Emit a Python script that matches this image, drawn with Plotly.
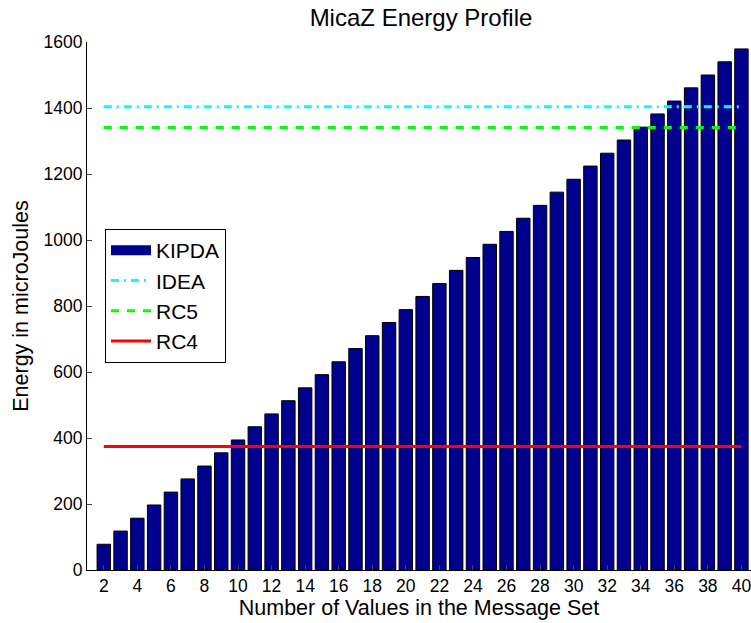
import plotly.graph_objects as go

# Data
set_sizes = list(range(2, 41))
kipda_energy = [78, 118, 157, 197, 236, 276, 315, 355, 394, 434,
                473, 513, 552, 592, 631, 671, 710, 750, 789, 829,
                868, 908, 947, 987, 1026, 1066, 1105, 1145, 1184, 1224,
                1263, 1303, 1342, 1382, 1421, 1461, 1500, 1540, 1579]
idea_energy = 1404
rc5_energy = 1341
rc4_energy = 374
x_ticks = list(range(2, 41, 2))
y_ticks = list(range(0, 1601, 200))

FONT = "Liberation Sans, Arial, Helvetica, sans-serif"
BAR_COLOR = "#00008F"

fig = go.Figure()
fig.add_trace(go.Bar(
    x=set_sizes, y=kipda_energy, name="KIPDA", width=0.8, showlegend=False,
    marker=dict(color=BAR_COLOR, line=dict(color="black", width=1)),
))
# legend swatch for the bars (wide rectangle like the original)
fig.add_trace(go.Scatter(x=[None], y=[None], mode="lines", name="KIPDA",
                         line=dict(color=BAR_COLOR, width=15)))
span = [set_sizes[0], set_sizes[-1]]
fig.add_trace(go.Scatter(x=span, y=[idea_energy] * 2, mode="lines", name="IDEA",
                         line=dict(color="#00FFFF", width=3, dash="8px,5px,2px,5px")))
fig.add_trace(go.Scatter(x=span, y=[rc5_energy] * 2, mode="lines", name="RC5",
                         line=dict(color="#00FF00", width=3, dash="8px,8px")))
fig.add_trace(go.Scatter(x=span, y=[rc4_energy] * 2, mode="lines", name="RC4",
                         line=dict(color="#FF0000", width=3)))

fig.update_layout(
    width=751, height=623,
    margin=dict(l=87, r=0, t=42, b=53),
    paper_bgcolor="white", plot_bgcolor="white",
    font=dict(family=FONT, size=17.5, color="black"),
    title=dict(text="MicaZ Energy Profile", x=421 / 751, xanchor="center",
               y=1 - 18 / 623, yanchor="middle", font=dict(size=24)),
    showlegend=True,
    legend=dict(x=(105 - 87) / 664, y=(570 - 229) / 528, xanchor="left", yanchor="top",
                bgcolor="white", bordercolor="black", borderwidth=1,
                traceorder="normal", font=dict(size=21), itemwidth=40,
                tracegroupgap=0),
)
fig.update_xaxes(range=[1, 40.57], tickvals=x_ticks, ticks="inside", ticklen=5,
                 showline=True, linecolor="black", linewidth=1, showgrid=False,
                 zeroline=False, automargin=False, tickfont=dict(size=17.5),
                 ticklabeloverflow="allow",
                 title=dict(text="Number of Values in the Message Set", standoff=2,
                            font=dict(size=21.5)))
fig.update_yaxes(range=[0, 1600], tickvals=y_ticks, ticks="inside", ticklen=5,
                 showline=True, linecolor="black", linewidth=1, showgrid=False,
                 zeroline=False, automargin=False, tickfont=dict(size=17.5),
                 title=dict(text="Energy in microJoules", standoff=9,
                            font=dict(size=21.5)))

fig.write_html("out.html", config={"displayModeBar": False},
               post_script="document.body.style.margin='0';document.body.style.overflow='hidden';")
